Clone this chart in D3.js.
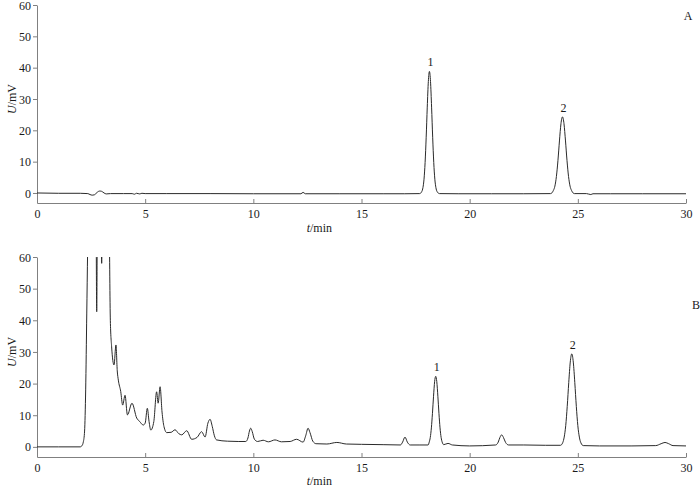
<!DOCTYPE html>
<html><head><meta charset="utf-8">
<script src="https://cdn.jsdelivr.net/npm/d3@7"></script>
<style>
html,body{margin:0;padding:0;background:#fff;}
svg{display:block;}
text{font-family:"Liberation Serif","DejaVu Serif",serif;fill:#1a1a1a;}
</style></head>
<body>
<svg id="chart" width="700" height="488"></svg>
<script>
// ---------- data ----------
const xTicks = [0, 5, 10, 15, 20, 25, 30];
const yTicks = [0, 10, 20, 30, 40, 50, 60];

// Chromatogram A (standard)
const timeA = [0, 1.0, 2.0, 2.35, 2.45, 2.55, 2.65, 2.72, 2.8, 2.88, 2.95, 3.02, 3.1, 3.2, 3.4, 4.0, 4.4, 4.5, 4.6, 4.75, 4.85, 5.0, 6.0, 8.0, 10.0, 12.2, 12.3, 12.4, 14.0, 16.0, 17.0,
  17.69, 17.79, 17.84, 17.89, 17.94, 17.99, 18.04, 18.09, 18.14, 18.19, 18.24, 18.29, 18.34, 18.39, 18.44, 18.49, 18.6,
  19.5, 21.0, 22.5, 23.74, 23.87, 23.94, 24.01, 24.08, 24.15, 24.22, 24.29, 24.36, 24.43, 24.5, 24.57, 24.64, 24.71, 24.84,
  25.4, 25.6, 25.7, 26.5, 28.0, 30.0];
const signalA = [0, -0.1, -0.1, -0.2, -0.5, -0.7, -0.6, -0.2, 0.3, 0.6, 0.6, 0.4, 0.0, -0.3, -0.2, -0.2, -0.2, -0.4, -0.1, -0.3, -0.1, -0.2, -0.2, -0.2, -0.25, -0.25, 0.2, -0.25, -0.25, -0.25, -0.25,
  -0.2, 0.5, 1.7, 4.4, 9.7, 17.8, 27.4, 35.6, 38.8, 35.6, 27.4, 17.8, 9.7, 4.4, 1.7, 0.5, -0.2,
  -0.25, -0.25, -0.25, -0.2, 0.8, 2.2, 5.3, 10.3, 16.6, 22.1, 24.3, 22.1, 16.6, 10.3, 5.3, 2.2, 0.8, -0.2,
  -0.2, -0.5, -0.25, -0.25, -0.25, -0.25];

// Chromatogram B (sample)
const timeB = [0, 1.0, 2.0, 2.07, 2.14, 2.2, 2.25, 2.3, 2.34, 2.45, 2.6, 2.72, 2.76, 2.8, 2.9, 2.96, 2.99, 3.02, 3.1, 3.25, 3.34, 3.39, 3.45,
  3.56, 3.65, 3.71, 3.76, 3.87, 3.96, 4.07, 4.18, 4.39, 4.61, 4.75, 4.91, 5.0, 5.1, 5.18, 5.26, 5.4, 5.53, 5.6, 5.69, 5.78, 5.87, 6.0,
  6.2, 6.38, 6.55, 6.69, 6.92, 7.15, 7.4, 7.61, 7.77, 7.9, 8.0, 8.1, 8.2, 8.3, 8.8, 9.3, 9.65, 9.75, 9.82, 9.88, 9.95, 10.05, 10.2,
  10.45, 10.7, 11.0, 11.3, 11.7, 12.0, 12.3, 12.42, 12.53, 12.62, 12.75, 12.9, 13.4, 13.86, 14.3, 15.0, 16.0, 16.8, 16.9, 17.01, 17.12, 17.25,
  17.7, 18.08, 18.13, 18.18, 18.23, 18.28, 18.33, 18.38, 18.43, 18.48, 18.53, 18.58, 18.63, 18.68, 18.73, 18.8, 19.0, 19.2,
  20.0, 21.2, 21.32, 21.4, 21.48, 21.56, 21.66, 21.8, 22.5, 23.5, 24.2, 24.3, 24.37, 24.44, 24.51, 24.58, 24.65, 24.72, 24.79, 24.86,
  24.93, 25.0, 25.07, 25.14, 25.25, 26.0, 27.5, 28.6, 28.85, 29.03, 29.2, 29.4, 30.0];
const signalB = [0, 0, 0, 0.3, 1.5, 5, 18, 42, 62, 110, 120, 90, 42.7, 85, 95, 70, 58, 75, 100, 95, 70, 40, 31.6,
  25.9, 32.2, 24.0, 21.1, 17.5, 13.2, 16.3, 10.1, 13.8, 9.1, 8.0, 6.9, 7.5, 12.2, 8.0, 5.3, 8.0, 17.4, 13.8, 19.0, 11.0, 6.4, 4.5,
  4.6, 5.4, 4.2, 3.8, 5.1, 2.4, 3.0, 4.8, 3.1, 7.5, 8.7, 6.5, 3.5, 2.2, 1.8, 1.7, 1.7, 2.8, 5.0, 5.9, 4.8, 2.4, 1.7,
  2.1, 1.6, 2.2, 1.6, 1.7, 2.4, 1.5, 3.5, 5.9, 4.5, 1.8, 1.0, 0.9, 1.4, 0.9, 0.8, 0.7, 0.6, 1.5, 3.1, 1.5, 0.6,
  0.6, 0.6, 1.5, 3.0, 6.0, 10.6, 16.0, 20.6, 22.3, 20.6, 16.0, 10.6, 6.0, 3.0, 1.5, 0.7, 1.1, 0.6,
  0.3, 0.6, 1.5, 3.0, 3.8, 3.0, 1.4, 0.6, 0.6, 0.5, 0.5, 1.3, 3.1, 6.7, 12.8, 20.3, 26.8, 29.4, 26.8, 20.3,
  12.8, 6.7, 3.1, 1.3, 0.4, 0.3, 0.3, 0.4, 1.0, 1.4, 1.0, 0.4, 0.3];

const peakLabelsA = [{t: 18.14, v: 38.8, label: "1"}, {t: 24.29, v: 24.3, label: "2"}];
const peakLabelsB = [{t: 18.43, v: 22.3, label: "1"}, {t: 24.72, v: 29.4, label: "2"}];

// ---------- drawing ----------
const svg = d3.select("#chart");
const x = d3.scaleLinear().domain([0, 30]).range([37, 686]);

const panels = [
  {id: "A", time: timeA, sig: signalA, peaks: peakLabelsA, yTop: 5, yBot: 203, titleY: 232, letterX: 688, letterY: 20, anchor: "middle"},
  {id: "B", time: timeB, sig: signalB, peaks: peakLabelsB, yTop: 257, yBot: 457, titleY: 485, letterX: 692, letterY: 309, anchor: "start"}
];

panels.forEach((p, i) => {
  const y = d3.scaleLinear().domain([-3.2, 60]).range([p.yBot, p.yTop]);
  const g = svg.append("g");

  const clipId = "clip" + p.id;
  svg.append("defs").append("clipPath").attr("id", clipId)
    .append("rect").attr("x", x(0)).attr("y", p.yTop).attr("width", x(30) - x(0) + 2).attr("height", p.yBot - p.yTop);

  // axes
  const yAxis = d3.axisLeft(y).tickValues(yTicks).tickSize(4).tickSizeOuter(0).tickPadding(2).tickFormat(d3.format("d"));
  const ya = g.append("g").attr("transform", `translate(${x(0)},0)`).call(yAxis);
  const xAxis = d3.axisBottom(x).tickValues(xTicks).tickSizeInner(-4).tickSizeOuter(0).tickPadding(6).tickFormat(d3.format("d"));
  const xa = g.append("g").attr("transform", `translate(0,${p.yBot})`).call(xAxis);
  [ya, xa].forEach(a => {
    a.select(".domain").attr("stroke", "#808080");
    a.selectAll(".tick line").attr("stroke", "#808080");
    a.selectAll(".tick text").attr("font-size", 12).attr("fill", "#1a1a1a")
      .style("font-family", '"Liberation Serif","DejaVu Serif",serif');
  });
  ya.selectAll(".tick text").attr("dy", "0.34em");

  // trace
  const data = p.time.map((t, k) => [t, p.sig[k]]);
  const line = d3.line().x(d => x(d[0])).y(d => y(d[1])).curve(d3.curveMonotoneX);
  g.append("path").datum(data).attr("d", line)
    .attr("fill", "none").attr("stroke", "#2a2a2a").attr("stroke-width", 1)
    .attr("clip-path", `url(#${clipId})`);

  // peak labels
  g.selectAll(".pk").data(p.peaks).enter().append("text")
    .attr("x", d => x(d.t) + 1).attr("y", d => y(d.v) - 5)
    .attr("text-anchor", "middle").attr("font-size", 12).text(d => d.label);

  // axis titles
  const yt = g.append("text").attr("transform", `translate(16,${y(30)}) rotate(-90)`)
    .attr("text-anchor", "middle").attr("font-size", 12);
  yt.append("tspan").attr("font-style", "italic").text("U");
  yt.append("tspan").text("/mV");

  const xt = g.append("text").attr("x", x(13.05)).attr("y", p.titleY)
    .attr("text-anchor", "middle").attr("font-size", 12);
  xt.append("tspan").attr("font-style", "italic").text("t");
  xt.append("tspan").text("/min");

  g.append("text").attr("x", p.letterX).attr("y", p.letterY).attr("text-anchor", p.anchor)
    .attr("font-size", 12).text(p.id);
});
</script>
</body></html>
